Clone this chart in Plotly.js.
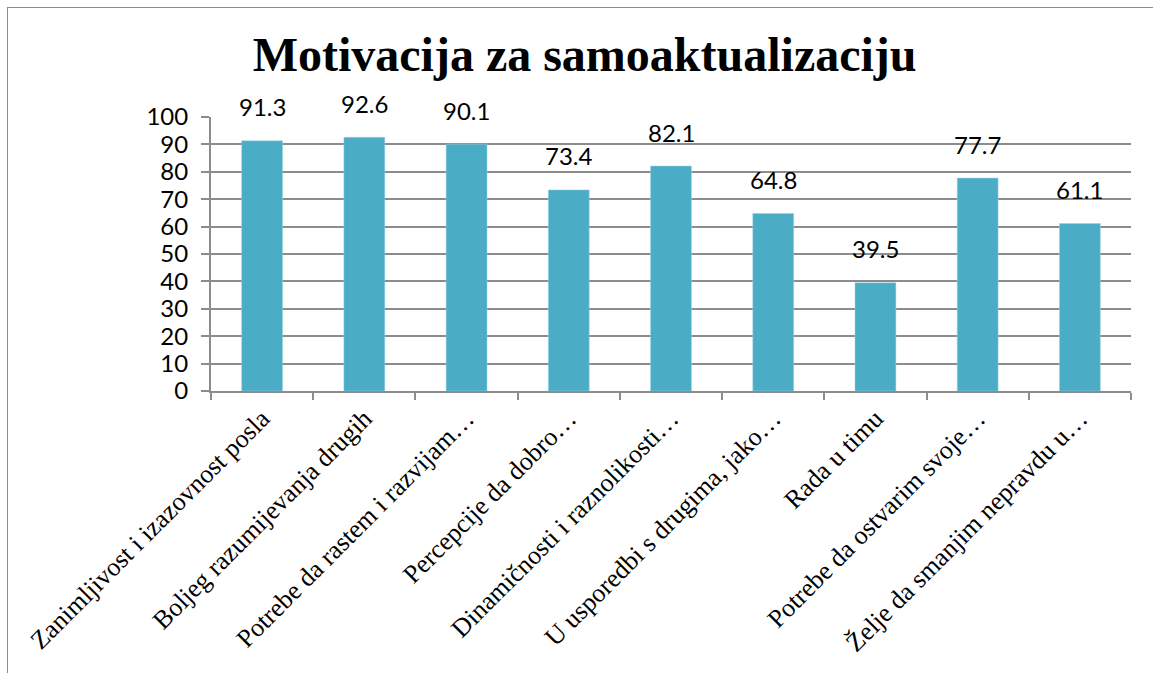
<!DOCTYPE html>
<html>
<head>
<meta charset="utf-8">
<script src="https://cdn.plot.ly/plotly-3.0.1.min.js"></script>
<style>
  html, body { margin: 0; padding: 0; background: #fff; }
  #wrap { position: relative; width: 1153px; height: 673px; overflow: hidden; }
  #frame { position: absolute; left: 7px; top: 7px; width: 1300px; height: 800px;
           border-left: 1.5px solid #8c8c8c; border-top: 1.5px solid #8c8c8c; pointer-events: none; }
  #chart { position: absolute; left: 0; top: 0; width: 1153px; height: 673px; }
</style>
</head>
<body>
<div id="wrap">
  <div id="chart"></div>
  <div id="frame"></div>
</div>
<script>
const categories = [
  "Zanimljivost i izazovnost posla",
  "Boljeg razumijevanja drugih",
  "Potrebe da rastem i razvijam…",
  "Percepcije da dobro…",
  "Dinamičnosti i raznolikosti…",
  "U usporedbi s drugima, jako…",
  "Rada u timu",
  "Potrebe da ostvarim svoje…",
  "Želje da smanjim nepravdu u…"
];
const values = [91.3, 92.6, 90.1, 73.4, 82.1, 64.8, 39.5, 77.7, 61.1];
const yTicks = [0, 10, 20, 30, 40, 50, 60, 70, 80, 90, 100];
const chartTitle = "Motivacija za samoaktualizaciju";

const labelFont = {family: "Lato, 'Open Sans', sans-serif", size: 24, color: "#000"};

const annotations = categories.map((c, i) => ({
  x: c, y: values[i], xref: "x", yref: "y",
  text: values[i].toFixed(1), showarrow: false,
  yanchor: "middle", yshift: 34, font: labelFont
}));

const trace = {
  type: "bar",
  x: categories,
  y: values,
  marker: {color: "#4BACC6", line: {color: "#9fd3e0", width: 0.5}},
  hoverinfo: "x+y"
};

const layout = {
  width: 1153, height: 673,
  margin: {l: 211, r: 22, t: 117, b: 282},
  paper_bgcolor: "#fff", plot_bgcolor: "#fff",
  showlegend: false,
  bargap: 0.6,
  title: {
    text: chartTitle, x: 0.507, xanchor: "center", y: 0.92, yanchor: "middle",
    font: {family: "'Liberation Serif', 'Times New Roman', serif", size: 48, color: "#000", weight: "bold"}
  },
  xaxis: {
    type: "category",
    tickangle: -45,
    tickfont: {family: "'Liberation Serif', 'Times New Roman', serif", size: 26, color: "#000"},
    showline: true, linecolor: "#8c8c8c", linewidth: 2,
    ticks: "outside", tickson: "boundaries", ticklen: 7, tickcolor: "#8c8c8c", tickwidth: 2,
    showgrid: false, fixedrange: true
  },
  yaxis: {
    range: [0, 100],
    tickvals: yTicks,
    ticktext: yTicks.map(String),
    tickfont: labelFont,
    showline: true, linecolor: "#8c8c8c", linewidth: 2,
    ticks: "outside", ticklen: 8, tickcolor: "#8c8c8c", tickwidth: 2,
    ticklabelstandoff: 8,
    showgrid: true, gridcolor: "#8c8c8c", gridwidth: 2,
    zeroline: false, fixedrange: true
  },
  annotations: annotations
};

Plotly.newPlot("chart", [trace], layout, {displayModeBar: false, staticPlot: true});
</script>
</body>
</html>
